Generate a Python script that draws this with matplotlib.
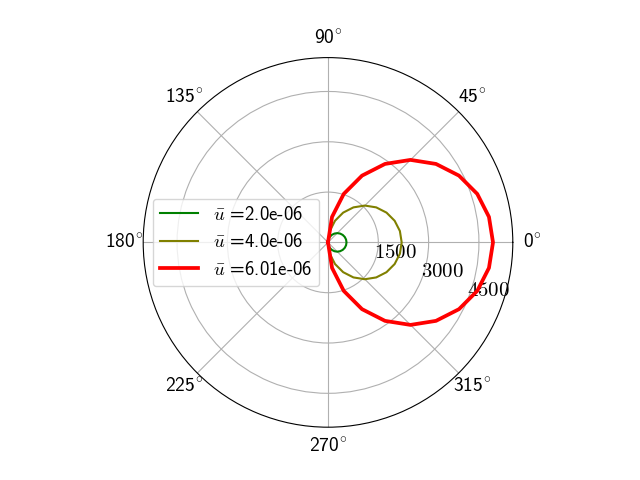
import numpy as np
import matplotlib
matplotlib.use("Agg")
import matplotlib.pyplot as plt
from matplotlib.ticker import FixedLocator, FuncFormatter

plt.rcParams['font.family'] = ['cmss10', 'DejaVu Sans']
plt.rcParams['mathtext.fontset'] = 'cm'
plt.rcParams['axes.formatter.use_mathtext'] = True
plt.rcParams['font.size'] = 14

theta_deg = [-90, -81, -72, -63, -54, -45, -36, -27, -18, -9, 0,
             9, 18, 27, 36, 45, 54, 63, 72, 81, 90]

r_green = [0, 87, 171, 251, 325, 391, 447, 492, 525, 545, 552,
           545, 525, 492, 447, 391, 325, 251, 171, 87, 0]
r_olive = [0, 344, 679, 997, 1291, 1553, 1777, 1957, 2089, 2170, 2197,
           2170, 2089, 1957, 1777, 1553, 1291, 997, 679, 344, 0]
r_red = [0, 770, 1520, 2234, 2892, 3479, 3980, 4384, 4679, 4859, 4920,
         4859, 4679, 4384, 3980, 3479, 2892, 2234, 1520, 770, 0]

labels = [r'$\bar{u}$ =2.0e-06', r'$\bar{u}$ =4.0e-06', r'$\bar{u}$ =6.01e-06']
colors = ['green', 'olive', 'red']
widths = [1.5, 1.5, 2.7]
r_ticks = [1500, 3000, 4500]
r_max = 5510

fig = plt.figure(figsize=(6.4, 4.8), dpi=100)
ax = fig.add_subplot(111, projection='polar')
th = np.deg2rad(theta_deg)
for r, lab, c, w in zip([r_green, r_olive, r_red], labels, colors, widths):
    ax.plot(th, r, color=c, lw=w, label=lab)

ax.set_rlim(0, r_max)
ax.yaxis.set_major_locator(FixedLocator(r_ticks))
ax.yaxis.set_major_formatter(FuncFormatter(lambda v, p: r'$%d$' % v))
ax.xaxis.set_major_formatter(
    FuncFormatter(lambda v, p: '%d$^{\\circ}$' % round(np.rad2deg(v) % 360)))
ax.set_rlabel_position(-22.5)
ax.tick_params(axis='y', labelsize=15)
ax.tick_params(axis='x', labelsize=14)
ax.legend(loc='center left', fontsize=13.5)

fig.savefig('out.png', dpi=100)
